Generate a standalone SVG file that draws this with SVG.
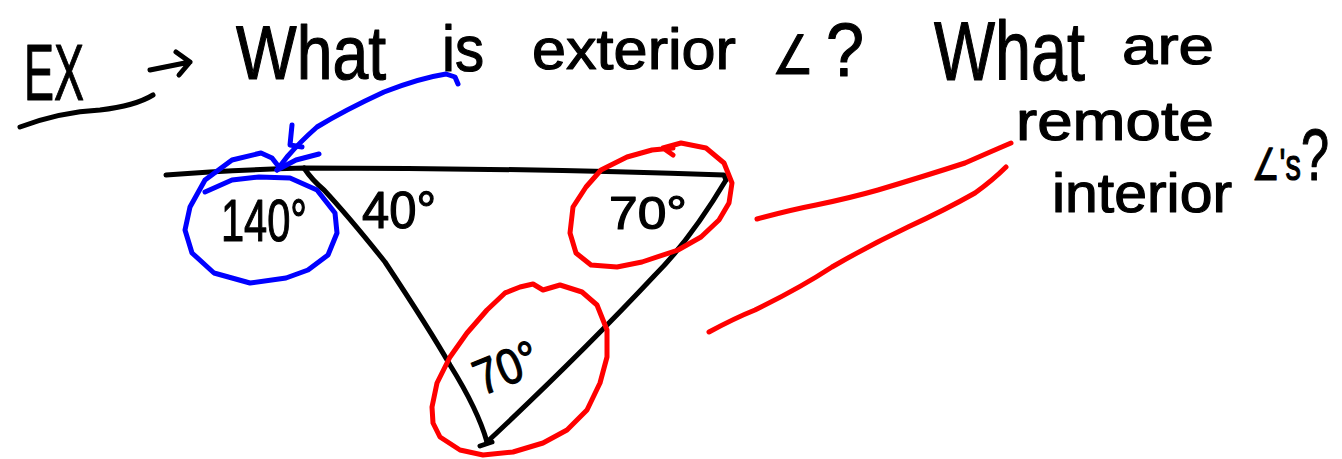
<svg xmlns="http://www.w3.org/2000/svg" width="1342" height="459" viewBox="0 0 1342 459">
<style>
.ink{fill:none;stroke:#000;stroke-width:5;stroke-linecap:round;stroke-linejoin:round}
.blue{fill:none;stroke:#0000ff;stroke-width:5;stroke-linecap:round;stroke-linejoin:round}
.red{fill:none;stroke:#ff0000;stroke-width:5;stroke-linecap:round;stroke-linejoin:round}
text{font-family:"Liberation Sans","DejaVu Sans",sans-serif;fill:#000;stroke:#000;stroke-width:1.2;stroke-linejoin:round}
</style>
<rect width="1342" height="459" fill="#fff"/>
<g id="title">
<text x="24" y="100" font-size="80" textLength="60" lengthAdjust="spacingAndGlyphs">EX</text>
<path class="ink" d="M20,127 Q60,112 100,110 Q135,106 153,95"/>
<path class="ink" d="M150,70 L190,62 M176,52 L190,62 L179,75"/>
<text x="236" y="79" font-size="76" textLength="150" lengthAdjust="spacingAndGlyphs">What</text>
<text x="442" y="71" font-size="64" textLength="42" lengthAdjust="spacingAndGlyphs">is</text>
<text x="532" y="69" font-size="58" textLength="204" lengthAdjust="spacingAndGlyphs">exterior</text>
<text x="772" y="74" font-size="54" textLength="42" lengthAdjust="spacingAndGlyphs">∠</text>
<text x="826" y="76" font-size="76" textLength="38" lengthAdjust="spacingAndGlyphs">?</text>
<text transform="translate(934,80) scale(0.77,1)" font-size="84" stroke-width="1.4">What</text>
<text x="1122" y="64" font-size="54" textLength="92" lengthAdjust="spacingAndGlyphs">are</text>
</g>
<g id="question2">
<text x="1016" y="140" font-size="56" textLength="198" lengthAdjust="spacingAndGlyphs">remote</text>
<text x="1052" y="212" font-size="56" textLength="180" lengthAdjust="spacingAndGlyphs">interior</text>
<text transform="translate(1252,180) scale(0.7,1)"><tspan font-size="44">∠'s</tspan><tspan font-size="72">?</tspan></text>
</g>
<g id="triangle">
<path class="ink" d="M166,175 Q230,170 304,168 Q520,168 724,175 L726,180"/>
<path class="ink" d="M726,180 Q690,240 655,275 Q580,355 487,442"/>
<path class="ink" d="M304,168 Q312,180 324,190 Q350,218 385,262 Q430,330 450,365 Q478,410 487,442"/>
<path class="ink" d="M480,446 L492,442"/>
</g>
<g id="label-140">
<text x="221" y="241" font-size="60" textLength="86" lengthAdjust="spacingAndGlyphs">140°</text>
</g>
<g id="label-40">
<text x="362" y="228" font-size="52" textLength="74" lengthAdjust="spacingAndGlyphs">40°</text>
</g>
<g id="label-70-top">
<text x="609" y="229" font-size="46" textLength="78" lengthAdjust="spacingAndGlyphs">70°</text>
</g>
<g id="label-70-bottom">
<text x="482" y="396" font-size="50" textLength="66" lengthAdjust="spacingAndGlyphs" transform="rotate(-22 482 396)">70°</text>
</g>
<g id="circle-140">
<path class="blue" d="M205,192 L232,180 L259,177 L290,178 L317,190 L335,213 L337,233 L328,255 L308,270 L286,278 L250,283 L214,273 L192,253 L185,230 L190,207 L205,180 L232,160 L261,153 L272,158 L279,167"/>
</g>
<g id="circle-70-top">
<path class="red" d="M673,155 L663,148 L681,143 L706,148 L724,163 L732,183 L729,203 L719,220 L701,237 L678,250 L642,262 L617,267 L591,265 L576,253 L570,233 L573,207 L586,187 L601,170 L627,157 L652,150 L673,148"/>
</g>
<g id="circle-70-bottom">
<path class="red" d="M505,293 L520,287 L533,284 L543,290 L560,285 L582,292 L597,305 L607,330 L607,357 L600,383 L587,410 L567,430 L543,443 L513,452 L483,455 L460,450 L440,437 L433,423 L432,407 L437,383 L450,357 L467,333 L487,310 L505,293"/>
</g>
<g id="connectors">
<path class="blue" d="M458,84 L455,77 L446,74 Q420,78 384,92 Q345,110 317,127 Q300,142 287,157 L277,170"/>
<path class="blue" d="M292,125 L290,145 L302,147"/>
<path class="blue" d="M277,170 L296,160 L319,154"/>
<path class="red" d="M757,219 Q790,210 816,205 Q850,198 878,190 Q925,176 965,163 Q990,152 1011,143"/>
<path class="red" d="M709,332 Q735,318 755,310 Q800,288 832,267 Q870,245 908,227 Q945,210 975,193 Q993,180 1006,167"/>
</g>
</svg>
